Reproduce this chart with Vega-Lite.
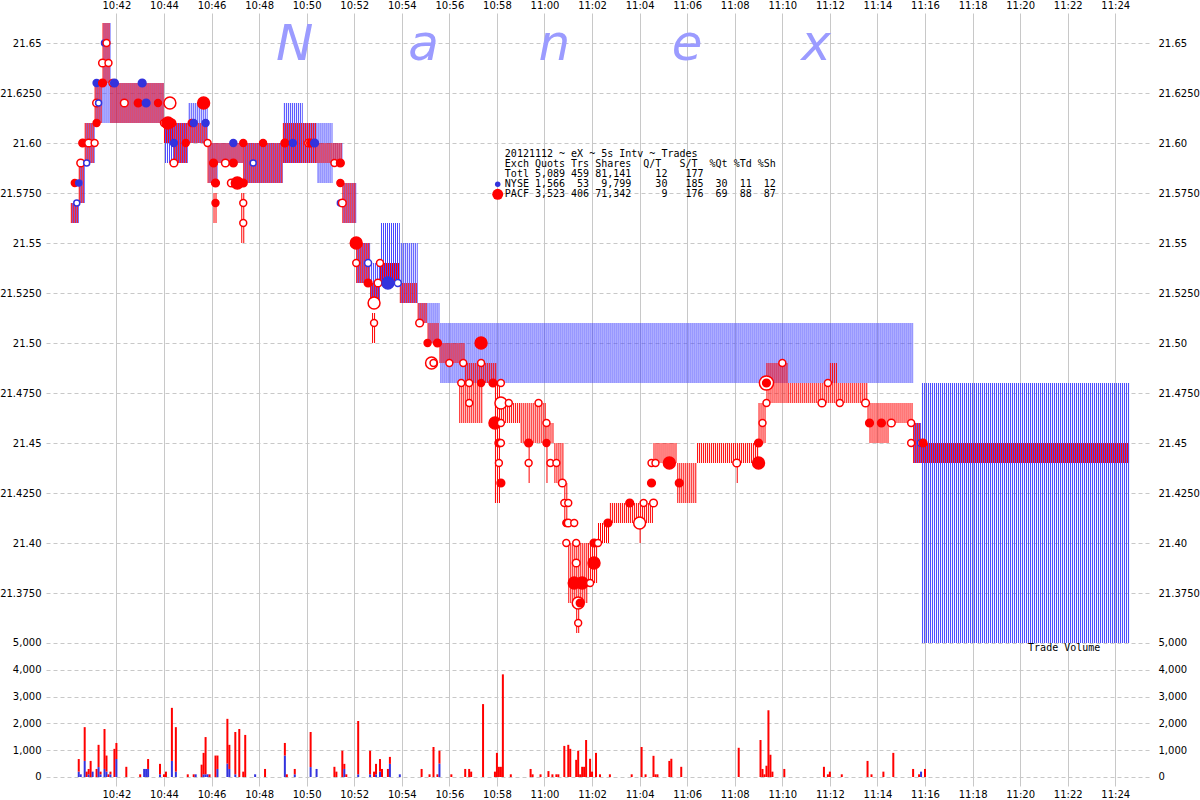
{
  "$schema": "https://vega.github.io/schema/vega-lite/v6.json",
  "width": 1104,
  "height": 773,
  "autosize": {"type": "none"},
  "padding": {"left": 46, "top": 13, "right": 50, "bottom": 14},
  "background": "white",
  "config": {
    "view": {"stroke": null},
    "axis": {"labelFont": "DejaVu Sans", "labelFontSize": 10, "labelColor": "#000000", "ticks": false, "domain": false, "gridColor": "#c8c8c8", "gridWidth": 1}
  },
  "layer": [
    {
      "layer": [
        {
          "data": {"format": {"parse": {"t0": "date:'%H:%M:%S'", "t1": "date:'%H:%M:%S'"}}, "values": [
            {"e":"N","t0":"10:40:05","t1":"10:40:25","lo":21.56,"hi":21.57},
            {"e":"N","t0":"10:40:25","t1":"10:40:40","lo":21.57,"hi":21.59},
            {"e":"N","t0":"10:40:40","t1":"10:41:05","lo":21.59,"hi":21.61},
            {"e":"N","t0":"10:41:05","t1":"10:41:25","lo":21.61,"hi":21.63},
            {"e":"N","t0":"10:41:25","t1":"10:41:45","lo":21.61,"hi":21.66},
            {"e":"N","t0":"10:41:45","t1":"10:44:00","lo":21.61,"hi":21.63},
            {"e":"N","t0":"10:44:00","t1":"10:44:25","lo":21.59,"hi":21.61},
            {"e":"N","t0":"10:44:25","t1":"10:45:00","lo":21.59,"hi":21.61},
            {"e":"N","t0":"10:45:00","t1":"10:45:50","lo":21.60,"hi":21.62},
            {"e":"N","t0":"10:45:50","t1":"10:46:15","lo":21.58,"hi":21.60},
            {"e":"N","t0":"10:46:15","t1":"10:47:20","lo":21.59,"hi":21.60},
            {"e":"N","t0":"10:47:20","t1":"10:49:00","lo":21.58,"hi":21.60},
            {"e":"N","t0":"10:49:00","t1":"10:49:50","lo":21.59,"hi":21.62},
            {"e":"N","t0":"10:49:50","t1":"10:50:25","lo":21.59,"hi":21.61},
            {"e":"N","t0":"10:50:25","t1":"10:51:05","lo":21.58,"hi":21.61},
            {"e":"N","t0":"10:51:05","t1":"10:51:30","lo":21.59,"hi":21.60},
            {"e":"N","t0":"10:51:30","t1":"10:52:05","lo":21.56,"hi":21.58},
            {"e":"N","t0":"10:52:05","t1":"10:52:40","lo":21.53,"hi":21.55},
            {"e":"N","t0":"10:52:40","t1":"10:53:05","lo":21.52,"hi":21.54},
            {"e":"N","t0":"10:53:05","t1":"10:53:55","lo":21.53,"hi":21.56},
            {"e":"N","t0":"10:53:55","t1":"10:54:40","lo":21.52,"hi":21.55},
            {"e":"N","t0":"10:54:40","t1":"10:55:05","lo":21.51,"hi":21.52},
            {"e":"N","t0":"10:55:05","t1":"10:55:35","lo":21.50,"hi":21.52},
            {"e":"N","t0":"10:55:35","t1":"11:15:30","lo":21.48,"hi":21.51},
            {"e":"N","t0":"11:15:30","t1":"11:15:50","lo":21.44,"hi":21.46},
            {"e":"N","t0":"11:15:50","t1":"11:24:35","lo":21.35,"hi":21.48}
          ]},
          "transform": [{"fold": ["lo", "hi"], "as": ["k", "p"]}],
          "mark": {"type": "rule", "color": "#4646ff", "strokeDash": [1, 1], "strokeDashOffset": 1, "strokeCap": "butt"},
          "encoding": {
            "x": {"field": "t0", "type": "temporal", "title": null,
                  "scale": {"domain": [{"year":1900,"month":1,"date":1,"hours":10,"minutes":39,"seconds":15}, {"year":1900,"month":1,"date":1,"hours":11,"minutes":25,"seconds":15}], "nice": false},
                  "axis": {"orient": "top", "format": "%H:%M", "grid": true, "labelPadding": 3,
                           "values": [
                             {"year":1900,"month":1,"date":1,"hours":10,"minutes":42},{"year":1900,"month":1,"date":1,"hours":10,"minutes":44},
                             {"year":1900,"month":1,"date":1,"hours":10,"minutes":46},{"year":1900,"month":1,"date":1,"hours":10,"minutes":48},
                             {"year":1900,"month":1,"date":1,"hours":10,"minutes":50},{"year":1900,"month":1,"date":1,"hours":10,"minutes":52},
                             {"year":1900,"month":1,"date":1,"hours":10,"minutes":54},{"year":1900,"month":1,"date":1,"hours":10,"minutes":56},
                             {"year":1900,"month":1,"date":1,"hours":10,"minutes":58},{"year":1900,"month":1,"date":1,"hours":11,"minutes":0},
                             {"year":1900,"month":1,"date":1,"hours":11,"minutes":2},{"year":1900,"month":1,"date":1,"hours":11,"minutes":4},
                             {"year":1900,"month":1,"date":1,"hours":11,"minutes":6},{"year":1900,"month":1,"date":1,"hours":11,"minutes":8},
                             {"year":1900,"month":1,"date":1,"hours":11,"minutes":10},{"year":1900,"month":1,"date":1,"hours":11,"minutes":12},
                             {"year":1900,"month":1,"date":1,"hours":11,"minutes":14},{"year":1900,"month":1,"date":1,"hours":11,"minutes":16},
                             {"year":1900,"month":1,"date":1,"hours":11,"minutes":18},{"year":1900,"month":1,"date":1,"hours":11,"minutes":20},
                             {"year":1900,"month":1,"date":1,"hours":11,"minutes":22},{"year":1900,"month":1,"date":1,"hours":11,"minutes":24}
                           ]}},
            "x2": {"field": "t1"},
            "y": {"field": "p", "aggregate": "mean", "type": "quantitative", "title": null,
                  "scale": {"domain": [21.2785, 21.665], "nice": false, "zero": false},
                  "axis": {"orient": "left", "grid": true, "gridDash": [4, 3], "labelPadding": 5,
                           "values": [21.375, 21.4, 21.425, 21.45, 21.475, 21.5, 21.525, 21.55, 21.575, 21.6, 21.625, 21.65],
                           "labelExpr": "round(datum.value*1000)%50==0 ? format(datum.value,'.2f') : format(datum.value,'.4f')"}},
            "strokeWidth": {"field": "p", "aggregate": "stdevp", "type": "quantitative", "scale": {"domain": [0, 0.1575], "range": [0, 630]}, "legend": null},
            "detail": {"field": "lo", "type": "quantitative"}
          }
        },
        {
          "data": {"format": {"parse": {"t0": "date:'%H:%M:%S'", "t1": "date:'%H:%M:%S'"}}, "values": [
            {"e":"P","t0":"10:40:05","t1":"10:40:25","lo":21.56,"hi":21.57},
            {"e":"P","t0":"10:40:25","t1":"10:40:40","lo":21.57,"hi":21.59},
            {"e":"P","t0":"10:40:40","t1":"10:41:05","lo":21.59,"hi":21.61},
            {"e":"P","t0":"10:41:05","t1":"10:41:25","lo":21.61,"hi":21.63},
            {"e":"P","t0":"10:41:25","t1":"10:41:45","lo":21.63,"hi":21.66},
            {"e":"P","t0":"10:41:45","t1":"10:44:00","lo":21.61,"hi":21.63},
            {"e":"P","t0":"10:44:00","t1":"10:44:25","lo":21.60,"hi":21.61},
            {"e":"P","t0":"10:44:25","t1":"10:45:00","lo":21.59,"hi":21.61},
            {"e":"P","t0":"10:45:00","t1":"10:45:50","lo":21.60,"hi":21.61},
            {"e":"P","t0":"10:45:50","t1":"10:46:15","lo":21.58,"hi":21.60},
            {"e":"P","t0":"10:46:05","t1":"10:46:15","lo":21.56,"hi":21.575},
            {"e":"P","t0":"10:46:15","t1":"10:47:20","lo":21.59,"hi":21.60},
            {"e":"P","t0":"10:47:15","t1":"10:47:25","lo":21.55,"hi":21.575},
            {"e":"P","t0":"10:47:20","t1":"10:49:00","lo":21.58,"hi":21.60},
            {"e":"P","t0":"10:49:00","t1":"10:50:25","lo":21.59,"hi":21.61},
            {"e":"P","t0":"10:50:25","t1":"10:51:30","lo":21.59,"hi":21.60},
            {"e":"P","t0":"10:51:30","t1":"10:52:05","lo":21.56,"hi":21.58},
            {"e":"P","t0":"10:52:05","t1":"10:52:40","lo":21.53,"hi":21.55},
            {"e":"P","t0":"10:52:40","t1":"10:53:05","lo":21.52,"hi":21.53},
            {"e":"P","t0":"10:52:45","t1":"10:52:55","lo":21.50,"hi":21.515},
            {"e":"P","t0":"10:53:05","t1":"10:53:55","lo":21.53,"hi":21.54},
            {"e":"P","t0":"10:53:55","t1":"10:54:40","lo":21.52,"hi":21.53},
            {"e":"P","t0":"10:54:40","t1":"10:55:05","lo":21.51,"hi":21.52},
            {"e":"P","t0":"10:55:05","t1":"10:55:35","lo":21.50,"hi":21.51},
            {"e":"P","t0":"10:55:35","t1":"10:56:40","lo":21.49,"hi":21.50},
            {"e":"P","t0":"10:56:40","t1":"10:58:00","lo":21.48,"hi":21.49},
            {"e":"P","t0":"10:56:25","t1":"10:57:25","lo":21.46,"hi":21.48},
            {"e":"P","t0":"10:57:55","t1":"10:58:10","lo":21.42,"hi":21.48},
            {"e":"P","t0":"10:58:10","t1":"10:59:00","lo":21.46,"hi":21.47},
            {"e":"P","t0":"10:59:00","t1":"11:00:05","lo":21.45,"hi":21.47},
            {"e":"P","t0":"10:59:20","t1":"10:59:25","lo":21.43,"hi":21.45},
            {"e":"P","t0":"11:00:05","t1":"11:00:25","lo":21.45,"hi":21.46},
            {"e":"P","t0":"11:00:05","t1":"11:00:10","lo":21.43,"hi":21.45},
            {"e":"P","t0":"11:00:25","t1":"11:00:50","lo":21.43,"hi":21.45},
            {"e":"P","t0":"11:00:50","t1":"11:01:00","lo":21.41,"hi":21.43},
            {"e":"P","t0":"11:01:00","t1":"11:01:50","lo":21.37,"hi":21.40},
            {"e":"P","t0":"11:01:20","t1":"11:01:30","lo":21.355,"hi":21.37},
            {"e":"P","t0":"11:01:50","t1":"11:02:15","lo":21.38,"hi":21.40},
            {"e":"P","t0":"11:02:15","t1":"11:02:45","lo":21.40,"hi":21.41},
            {"e":"P","t0":"11:02:45","t1":"11:04:35","lo":21.41,"hi":21.42},
            {"e":"P","t0":"11:04:00","t1":"11:04:05","lo":21.40,"hi":21.41},
            {"e":"P","t0":"11:04:35","t1":"11:05:35","lo":21.44,"hi":21.45},
            {"e":"P","t0":"11:05:35","t1":"11:06:25","lo":21.42,"hi":21.44},
            {"e":"P","t0":"11:06:25","t1":"11:09:00","lo":21.44,"hi":21.45},
            {"e":"P","t0":"11:08:05","t1":"11:08:10","lo":21.43,"hi":21.44},
            {"e":"P","t0":"11:09:00","t1":"11:09:20","lo":21.45,"hi":21.47},
            {"e":"P","t0":"11:09:20","t1":"11:10:15","lo":21.47,"hi":21.49},
            {"e":"P","t0":"11:10:15","t1":"11:13:35","lo":21.47,"hi":21.48},
            {"e":"P","t0":"11:12:00","t1":"11:12:20","lo":21.48,"hi":21.49},
            {"e":"P","t0":"11:13:35","t1":"11:15:30","lo":21.46,"hi":21.47},
            {"e":"P","t0":"11:13:40","t1":"11:14:30","lo":21.45,"hi":21.46},
            {"e":"P","t0":"11:15:30","t1":"11:15:50","lo":21.44,"hi":21.46},
            {"e":"P","t0":"11:15:50","t1":"11:24:35","lo":21.44,"hi":21.45}
          ]},
          "transform": [{"fold": ["lo", "hi"], "as": ["k", "p"]}],
          "mark": {"type": "rule", "color": "#ff0000", "strokeDash": [1, 1], "strokeDashOffset": 0, "strokeCap": "butt"},
          "encoding": {
            "x": {"field": "t0", "type": "temporal"},
            "x2": {"field": "t1"},
            "y": {"field": "p", "aggregate": "mean", "type": "quantitative"},
            "strokeWidth": {"field": "p", "aggregate": "stdevp", "type": "quantitative", "scale": {"domain": [0, 0.1575], "range": [0, 630]}, "legend": null},
            "detail": {"field": "lo", "type": "quantitative"}
          }
        },
        {
          "data": {"format": {"parse": {"t": "date:'%H:%M:%S'"}}, "values": [
            {"t":"10:40:15","p":21.58,"e":"P","s":"b","sh":200},
            {"t":"10:40:20","p":21.57,"e":"N","s":"a","sh":100},
            {"t":"10:40:25","p":21.58,"e":"N","s":"b","sh":100},
            {"t":"10:40:30","p":21.59,"e":"P","s":"a","sh":300},
            {"t":"10:40:35","p":21.60,"e":"P","s":"b","sh":300},
            {"t":"10:40:45","p":21.59,"e":"N","s":"a","sh":100},
            {"t":"10:40:50","p":21.60,"e":"P","s":"a","sh":300},
            {"t":"10:41:05","p":21.60,"e":"P","s":"a","sh":200},
            {"t":"10:41:10","p":21.61,"e":"P","s":"b","sh":200},
            {"t":"10:41:10","p":21.62,"e":"P","s":"a","sh":300},
            {"t":"10:41:15","p":21.62,"e":"N","s":"a","sh":100},
            {"t":"10:41:10","p":21.63,"e":"N","s":"b","sh":200},
            {"t":"10:41:25","p":21.63,"e":"P","s":"b","sh":300},
            {"t":"10:41:25","p":21.64,"e":"P","s":"a","sh":300},
            {"t":"10:41:40","p":21.64,"e":"P","s":"a","sh":200},
            {"t":"10:41:30","p":21.65,"e":"N","s":"b","sh":100},
            {"t":"10:41:35","p":21.65,"e":"P","s":"a","sh":200},
            {"t":"10:41:50","p":21.63,"e":"P","s":"a","sh":200},
            {"t":"10:41:55","p":21.63,"e":"N","s":"b","sh":300},
            {"t":"10:42:20","p":21.62,"e":"P","s":"a","sh":300},
            {"t":"10:42:55","p":21.62,"e":"P","s":"b","sh":300},
            {"t":"10:43:05","p":21.63,"e":"N","s":"b","sh":300},
            {"t":"10:43:15","p":21.62,"e":"N","s":"b","sh":300},
            {"t":"10:43:45","p":21.62,"e":"P","s":"b","sh":200},
            {"t":"10:44:00","p":21.61,"e":"P","s":"a","sh":200},
            {"t":"10:44:15","p":21.62,"e":"P","s":"a","sh":1000},
            {"t":"10:44:10","p":21.61,"e":"P","s":"b","sh":1000},
            {"t":"10:44:20","p":21.61,"e":"P","s":"b","sh":300},
            {"t":"10:44:25","p":21.60,"e":"N","s":"b","sh":200},
            {"t":"10:44:25","p":21.59,"e":"P","s":"a","sh":300},
            {"t":"10:44:55","p":21.60,"e":"P","s":"b","sh":200},
            {"t":"10:45:10","p":21.61,"e":"P","s":"b","sh":200},
            {"t":"10:45:15","p":21.61,"e":"N","s":"b","sh":200},
            {"t":"10:45:40","p":21.62,"e":"P","s":"b","sh":1000},
            {"t":"10:45:45","p":21.61,"e":"N","s":"b","sh":200},
            {"t":"10:45:50","p":21.60,"e":"P","s":"a","sh":200},
            {"t":"10:46:05","p":21.59,"e":"P","s":"b","sh":300},
            {"t":"10:46:10","p":21.58,"e":"P","s":"b","sh":300},
            {"t":"10:46:10","p":21.57,"e":"P","s":"b","sh":200},
            {"t":"10:46:35","p":21.59,"e":"P","s":"a","sh":300},
            {"t":"10:46:50","p":21.58,"e":"P","s":"a","sh":300},
            {"t":"10:46:55","p":21.59,"e":"P","s":"b","sh":300},
            {"t":"10:46:55","p":21.60,"e":"N","s":"b","sh":200},
            {"t":"10:47:05","p":21.58,"e":"P","s":"b","sh":1000},
            {"t":"10:47:20","p":21.58,"e":"P","s":"b","sh":300},
            {"t":"10:47:20","p":21.60,"e":"P","s":"b","sh":200},
            {"t":"10:47:20","p":21.57,"e":"P","s":"a","sh":200},
            {"t":"10:47:20","p":21.56,"e":"P","s":"a","sh":200},
            {"t":"10:47:45","p":21.59,"e":"N","s":"a","sh":100},
            {"t":"10:48:10","p":21.60,"e":"P","s":"b","sh":200},
            {"t":"10:49:05","p":21.60,"e":"P","s":"b","sh":300},
            {"t":"10:49:25","p":21.60,"e":"N","s":"b","sh":200},
            {"t":"10:50:05","p":21.60,"e":"P","s":"a","sh":300},
            {"t":"10:50:10","p":21.60,"e":"P","s":"b","sh":300},
            {"t":"10:50:20","p":21.60,"e":"N","s":"b","sh":300},
            {"t":"10:51:10","p":21.59,"e":"P","s":"a","sh":200},
            {"t":"10:51:25","p":21.59,"e":"P","s":"b","sh":300},
            {"t":"10:51:25","p":21.58,"e":"P","s":"b","sh":200},
            {"t":"10:51:25","p":21.57,"e":"N","s":"a","sh":100},
            {"t":"10:51:30","p":21.57,"e":"P","s":"a","sh":300},
            {"t":"10:52:05","p":21.55,"e":"P","s":"b","sh":1000},
            {"t":"10:52:05","p":21.54,"e":"P","s":"a","sh":200},
            {"t":"10:52:35","p":21.54,"e":"N","s":"a","sh":200},
            {"t":"10:52:35","p":21.53,"e":"P","s":"b","sh":300},
            {"t":"10:52:50","p":21.52,"e":"P","s":"a","sh":1000},
            {"t":"10:52:50","p":21.51,"e":"P","s":"a","sh":200},
            {"t":"10:53:00","p":21.53,"e":"P","s":"a","sh":300},
            {"t":"10:53:05","p":21.54,"e":"P","s":"a","sh":200},
            {"t":"10:53:25","p":21.53,"e":"N","s":"b","sh":1000},
            {"t":"10:53:50","p":21.53,"e":"N","s":"a","sh":200},
            {"t":"10:54:45","p":21.51,"e":"P","s":"a","sh":300},
            {"t":"10:55:05","p":21.50,"e":"P","s":"b","sh":200},
            {"t":"10:55:15","p":21.49,"e":"P","s":"a","sh":1000},
            {"t":"10:55:20","p":21.49,"e":"P","s":"a","sh":200},
            {"t":"10:55:30","p":21.50,"e":"P","s":"b","sh":300},
            {"t":"10:56:00","p":21.49,"e":"P","s":"a","sh":200},
            {"t":"10:56:30","p":21.48,"e":"P","s":"a","sh":200},
            {"t":"10:56:35","p":21.49,"e":"P","s":"a","sh":200},
            {"t":"10:56:50","p":21.48,"e":"P","s":"a","sh":200},
            {"t":"10:56:50","p":21.47,"e":"P","s":"a","sh":200},
            {"t":"10:57:20","p":21.50,"e":"P","s":"b","sh":1000},
            {"t":"10:57:20","p":21.49,"e":"P","s":"a","sh":200},
            {"t":"10:57:20","p":21.48,"e":"P","s":"b","sh":200},
            {"t":"10:57:50","p":21.48,"e":"P","s":"b","sh":300},
            {"t":"10:57:55","p":21.46,"e":"P","s":"b","sh":1000},
            {"t":"10:58:05","p":21.45,"e":"P","s":"b","sh":300},
            {"t":"10:58:05","p":21.44,"e":"P","s":"a","sh":200},
            {"t":"10:58:10","p":21.48,"e":"P","s":"a","sh":200},
            {"t":"10:58:10","p":21.47,"e":"P","s":"a","sh":1000},
            {"t":"10:58:10","p":21.46,"e":"P","s":"a","sh":200},
            {"t":"10:58:10","p":21.45,"e":"P","s":"a","sh":200},
            {"t":"10:58:10","p":21.43,"e":"P","s":"b","sh":300},
            {"t":"10:58:30","p":21.47,"e":"P","s":"a","sh":200},
            {"t":"10:59:20","p":21.45,"e":"P","s":"b","sh":300},
            {"t":"10:59:20","p":21.44,"e":"P","s":"a","sh":200},
            {"t":"10:59:45","p":21.47,"e":"P","s":"a","sh":200},
            {"t":"11:00:05","p":21.46,"e":"P","s":"a","sh":200},
            {"t":"11:00:05","p":21.45,"e":"P","s":"b","sh":200},
            {"t":"11:00:15","p":21.44,"e":"P","s":"a","sh":200},
            {"t":"11:00:30","p":21.44,"e":"P","s":"a","sh":200},
            {"t":"11:00:45","p":21.43,"e":"P","s":"a","sh":300},
            {"t":"11:00:50","p":21.42,"e":"P","s":"a","sh":200},
            {"t":"11:00:55","p":21.41,"e":"P","s":"b","sh":200},
            {"t":"11:00:55","p":21.40,"e":"P","s":"a","sh":200},
            {"t":"11:01:00","p":21.42,"e":"P","s":"a","sh":200},
            {"t":"11:01:00","p":21.41,"e":"P","s":"a","sh":300},
            {"t":"11:01:15","p":21.41,"e":"P","s":"a","sh":200},
            {"t":"11:01:15","p":21.38,"e":"P","s":"b","sh":1000},
            {"t":"11:01:20","p":21.40,"e":"P","s":"a","sh":200},
            {"t":"11:01:20","p":21.39,"e":"P","s":"a","sh":300},
            {"t":"11:01:25","p":21.37,"e":"P","s":"a","sh":1000},
            {"t":"11:01:25","p":21.36,"e":"P","s":"a","sh":200},
            {"t":"11:01:30","p":21.37,"e":"P","s":"b","sh":300},
            {"t":"11:01:35","p":21.38,"e":"P","s":"b","sh":1000},
            {"t":"11:01:55","p":21.38,"e":"P","s":"a","sh":200},
            {"t":"11:02:05","p":21.40,"e":"P","s":"b","sh":300},
            {"t":"11:02:05","p":21.39,"e":"P","s":"b","sh":1000},
            {"t":"11:02:15","p":21.40,"e":"P","s":"a","sh":200},
            {"t":"11:02:40","p":21.41,"e":"P","s":"b","sh":300},
            {"t":"11:03:35","p":21.42,"e":"P","s":"b","sh":300},
            {"t":"11:04:00","p":21.41,"e":"P","s":"a","sh":1000},
            {"t":"11:04:10","p":21.42,"e":"P","s":"a","sh":200},
            {"t":"11:04:30","p":21.44,"e":"P","s":"a","sh":200},
            {"t":"11:04:30","p":21.43,"e":"P","s":"b","sh":300},
            {"t":"11:04:35","p":21.42,"e":"P","s":"a","sh":300},
            {"t":"11:04:40","p":21.44,"e":"P","s":"a","sh":200},
            {"t":"11:05:15","p":21.44,"e":"P","s":"b","sh":1000},
            {"t":"11:05:40","p":21.43,"e":"P","s":"b","sh":300},
            {"t":"11:08:05","p":21.44,"e":"P","s":"a","sh":300},
            {"t":"11:09:00","p":21.44,"e":"P","s":"b","sh":1000},
            {"t":"11:09:00","p":21.45,"e":"P","s":"b","sh":300},
            {"t":"11:09:10","p":21.46,"e":"P","s":"a","sh":200},
            {"t":"11:09:20","p":21.47,"e":"P","s":"a","sh":200},
            {"t":"11:09:20","p":21.48,"e":"P","s":"a","sh":1500},
            {"t":"11:09:20","p":21.48,"e":"P","s":"b","sh":300},
            {"t":"11:10:00","p":21.49,"e":"P","s":"a","sh":200},
            {"t":"11:11:40","p":21.47,"e":"P","s":"a","sh":300},
            {"t":"11:11:55","p":21.48,"e":"P","s":"a","sh":200},
            {"t":"11:12:25","p":21.47,"e":"P","s":"a","sh":200},
            {"t":"11:13:30","p":21.47,"e":"P","s":"a","sh":300},
            {"t":"11:13:40","p":21.46,"e":"P","s":"b","sh":300},
            {"t":"11:14:10","p":21.46,"e":"P","s":"b","sh":300},
            {"t":"11:14:35","p":21.46,"e":"P","s":"a","sh":300},
            {"t":"11:15:25","p":21.46,"e":"P","s":"a","sh":200},
            {"t":"11:15:25","p":21.45,"e":"P","s":"a","sh":200},
            {"t":"11:15:50","p":21.45,"e":"N","s":"a","sh":200},
            {"t":"11:15:55","p":21.45,"e":"P","s":"b","sh":300}
          ]},
          "mark": {"type": "point", "shape": "circle", "filled": false, "strokeWidth": 1.5, "opacity": 1, "fillOpacity": 1},
          "encoding": {
            "x": {"field": "t", "type": "temporal"},
            "y": {"field": "p", "type": "quantitative"},
            "fill": {"condition": {"test": "datum.s == 'a'", "value": "#ffffff"}, "field": "e", "type": "nominal", "scale": {"domain": ["N", "P"], "range": ["#3333dd", "#ff0000"]}, "legend": null},
            "stroke": {"field": "e", "type": "nominal", "scale": {"domain": ["N", "P"], "range": ["#3333dd", "#ff0000"]}, "legend": null},
            "size": {"field": "sh", "type": "quantitative", "scale": {"domain": [100, 1500], "range": [36, 200]}, "legend": null}
          }
        },
        {
          "data": {"format": {"parse": {"t": "date:'%H:%M:%S'"}}, "values": [
            {"c":"N","t":"10:49:30"},
            {"c":"a","t":"10:54:55"},
            {"c":"n","t":"11:00:25"},
            {"c":"e","t":"11:06:00"},
            {"c":"x","t":"11:11:25"}
          ]},
          "mark": {"type": "text", "font": "DejaVu Sans", "fontSize": 50, "fontStyle": "italic", "color": "#9b9bff", "align": "center", "baseline": "alphabetic"},
          "encoding": {
            "x": {"field": "t", "type": "temporal"},
            "y": {"datum": 21.6415, "type": "quantitative"},
            "text": {"field": "c"}
          }
        },
        {
          "data": {"values": [{}]},
          "mark": {"type": "text", "font": "DejaVu Sans Mono", "fontSize": 10, "color": "#000000", "align": "left", "baseline": "middle", "lineHeight": 10,
                   "text": [
                     "20121112\u00a0~\u00a0eX\u00a0~\u00a05s\u00a0Intv\u00a0~\u00a0Trades",
                     "Exch\u00a0Quots\u00a0Trs\u00a0Shares\u00a0\u00a0Q/T\u00a0\u00a0\u00a0S/T\u00a0\u00a0%Qt\u00a0%Td\u00a0%Sh",
                     "Totl\u00a05,089\u00a0459\u00a081,141\u00a0\u00a0\u00a0\u00a012\u00a0\u00a0\u00a0177",
                     "NYSE\u00a01,566\u00a0\u00a053\u00a0\u00a09,799\u00a0\u00a0\u00a0\u00a030\u00a0\u00a0\u00a0185\u00a0\u00a030\u00a0\u00a011\u00a0\u00a012",
                     "PACF\u00a03,523\u00a0406\u00a071,342\u00a0\u00a0\u00a0\u00a0\u00a09\u00a0\u00a0\u00a0176\u00a0\u00a069\u00a0\u00a088\u00a0\u00a087"
                   ]},
          "encoding": {
            "x": {"datum": {"year":1900,"month":1,"date":1,"hours":10,"minutes":58,"seconds":20}, "type": "temporal"},
            "y": {"datum": 21.59435, "type": "quantitative"}
          }
        },
        {
          "data": {"values": [{}]},
          "mark": {"type": "circle", "color": "#3333dd", "size": 30, "opacity": 1},
          "encoding": {
            "x": {"datum": {"year":1900,"month":1,"date":1,"hours":10,"minutes":58,"seconds":2}, "type": "temporal"},
            "y": {"datum": 21.57935, "type": "quantitative"}
          }
        },
        {
          "data": {"values": [{}]},
          "mark": {"type": "circle", "color": "#ff0000", "size": 120, "opacity": 1},
          "encoding": {
            "x": {"datum": {"year":1900,"month":1,"date":1,"hours":10,"minutes":58,"seconds":2}, "type": "temporal"},
            "y": {"datum": 21.57435, "type": "quantitative"}
          }
        }
      ]
    },
    {
      "data": {"values": [{}]},
      "mark": {"type": "rule", "opacity": 0},
      "encoding": {
        "y": {"datum": 21.5, "type": "quantitative", "title": null,
              "scale": {"domain": [21.2785, 21.665], "nice": false, "zero": false},
              "axis": {"orient": "right", "grid": false, "labelPadding": 8,
                       "values": [21.375, 21.4, 21.425, 21.45, 21.475, 21.5, 21.525, 21.55, 21.575, 21.6, 21.625, 21.65],
                       "labelExpr": "round(datum.value*1000)%50==0 ? format(datum.value,'.2f') : format(datum.value,'.4f')"}}
      }
    },
    {
      "layer": [
        {
          "data": {"format": {"parse": {"t": "date:'%H:%M:%S'"}}, "values": [
            {"t":"10:40:25","e":"N","v":200},{"t":"10:40:25","e":"P","v":470},
            {"t":"10:40:30","e":"N","v":100},
            {"t":"10:40:40","e":"N","v":600},{"t":"10:40:40","e":"P","v":1260},
            {"t":"10:40:45","e":"P","v":200},
            {"t":"10:40:50","e":"N","v":100},{"t":"10:40:50","e":"P","v":200},
            {"t":"10:40:55","e":"P","v":600},
            {"t":"10:41:00","e":"N","v":200},
            {"t":"10:41:10","e":"P","v":300},
            {"t":"10:41:15","e":"N","v":370},{"t":"10:41:15","e":"P","v":830},
            {"t":"10:41:20","e":"N","v":100},{"t":"10:41:20","e":"P","v":100},
            {"t":"10:41:30","e":"N","v":300},{"t":"10:41:30","e":"P","v":1490},
            {"t":"10:41:35","e":"N","v":200},{"t":"10:41:35","e":"P","v":600},
            {"t":"10:41:40","e":"P","v":100},
            {"t":"10:41:45","e":"N","v":100},{"t":"10:41:45","e":"P","v":100},
            {"t":"10:41:55","e":"P","v":1050},
            {"t":"10:42:00","e":"N","v":670},{"t":"10:42:00","e":"P","v":600},
            {"t":"10:42:25","e":"P","v":380},
            {"t":"10:43:00","e":"P","v":100},
            {"t":"10:43:10","e":"N","v":300},
            {"t":"10:43:15","e":"N","v":300},
            {"t":"10:43:20","e":"N","v":300},{"t":"10:43:20","e":"P","v":370},
            {"t":"10:43:50","e":"N","v":100},{"t":"10:43:50","e":"P","v":390},
            {"t":"10:44:00","e":"P","v":100},
            {"t":"10:44:05","e":"P","v":200},
            {"t":"10:44:20","e":"N","v":600},{"t":"10:44:20","e":"P","v":1980},
            {"t":"10:44:30","e":"N","v":200},{"t":"10:44:30","e":"P","v":1660},
            {"t":"10:45:00","e":"P","v":100},
            {"t":"10:45:15","e":"P","v":100},
            {"t":"10:45:20","e":"N","v":100},
            {"t":"10:45:35","e":"P","v":460},
            {"t":"10:45:40","e":"N","v":100},{"t":"10:45:40","e":"P","v":800},
            {"t":"10:45:45","e":"N","v":100},{"t":"10:45:45","e":"P","v":1390},
            {"t":"10:45:50","e":"N","v":100},
            {"t":"10:45:55","e":"P","v":100},
            {"t":"10:46:10","e":"P","v":800},
            {"t":"10:46:15","e":"N","v":300},{"t":"10:46:15","e":"P","v":500},
            {"t":"10:46:40","e":"N","v":500},{"t":"10:46:40","e":"P","v":1670},
            {"t":"10:46:45","e":"N","v":300},{"t":"10:46:45","e":"P","v":900},
            {"t":"10:47:00","e":"N","v":100},{"t":"10:47:00","e":"P","v":1580},
            {"t":"10:47:10","e":"P","v":1790},
            {"t":"10:47:20","e":"P","v":200},
            {"t":"10:47:25","e":"P","v":1570},
            {"t":"10:47:50","e":"N","v":100},
            {"t":"10:48:15","e":"P","v":300},
            {"t":"10:49:05","e":"N","v":800},{"t":"10:49:05","e":"P","v":470},
            {"t":"10:49:10","e":"P","v":100},
            {"t":"10:49:30","e":"N","v":100},{"t":"10:49:30","e":"P","v":200},
            {"t":"10:50:10","e":"N","v":370},{"t":"10:50:10","e":"P","v":1310},
            {"t":"10:50:25","e":"N","v":300},
            {"t":"10:51:10","e":"P","v":380},
            {"t":"10:51:15","e":"P","v":200},
            {"t":"10:51:30","e":"P","v":980},
            {"t":"10:51:35","e":"N","v":300},{"t":"10:51:35","e":"P","v":190},
            {"t":"10:51:40","e":"P","v":100},
            {"t":"10:52:10","e":"N","v":100},{"t":"10:52:10","e":"P","v":1990},
            {"t":"10:52:40","e":"N","v":100},{"t":"10:52:40","e":"P","v":880},
            {"t":"10:52:50","e":"P","v":200},
            {"t":"10:52:55","e":"N","v":100},{"t":"10:52:55","e":"P","v":390},
            {"t":"10:53:05","e":"N","v":200},{"t":"10:53:05","e":"P","v":470},
            {"t":"10:53:10","e":"P","v":300},
            {"t":"10:53:25","e":"P","v":300},
            {"t":"10:53:30","e":"N","v":490},{"t":"10:53:30","e":"P","v":260},
            {"t":"10:53:55","e":"N","v":100},
            {"t":"10:54:50","e":"P","v":300},
            {"t":"10:55:10","e":"P","v":100},
            {"t":"10:55:20","e":"P","v":1120},
            {"t":"10:55:30","e":"P","v":100},
            {"t":"10:55:35","e":"N","v":500},{"t":"10:55:35","e":"P","v":480},
            {"t":"10:56:05","e":"P","v":100},
            {"t":"10:56:40","e":"P","v":300},
            {"t":"10:56:50","e":"P","v":300},
            {"t":"10:56:55","e":"P","v":200},
            {"t":"10:57:25","e":"P","v":2720},
            {"t":"10:57:55","e":"P","v":200},
            {"t":"10:58:00","e":"P","v":900},
            {"t":"10:58:05","e":"P","v":380},
            {"t":"10:58:10","e":"P","v":380},
            {"t":"10:58:15","e":"P","v":3830},
            {"t":"10:58:35","e":"P","v":100},
            {"t":"10:59:25","e":"P","v":300},
            {"t":"10:59:30","e":"P","v":100},
            {"t":"10:59:50","e":"P","v":100},
            {"t":"11:00:10","e":"P","v":220},
            {"t":"11:00:20","e":"P","v":100},
            {"t":"11:00:30","e":"P","v":100},
            {"t":"11:00:35","e":"P","v":100},
            {"t":"11:00:50","e":"P","v":1160},
            {"t":"11:01:00","e":"P","v":1200},
            {"t":"11:01:05","e":"P","v":1050},
            {"t":"11:01:20","e":"P","v":640},
            {"t":"11:01:25","e":"P","v":980},
            {"t":"11:01:30","e":"P","v":100},
            {"t":"11:01:35","e":"P","v":380},
            {"t":"11:01:40","e":"P","v":380},
            {"t":"11:01:45","e":"P","v":1380},
            {"t":"11:01:55","e":"P","v":680},
            {"t":"11:02:00","e":"P","v":200},
            {"t":"11:02:10","e":"P","v":900},
            {"t":"11:02:20","e":"P","v":100},
            {"t":"11:02:45","e":"P","v":100},
            {"t":"11:03:40","e":"P","v":100},
            {"t":"11:04:05","e":"P","v":1120},
            {"t":"11:04:15","e":"P","v":100},
            {"t":"11:04:35","e":"P","v":790},
            {"t":"11:04:40","e":"P","v":100},
            {"t":"11:04:45","e":"P","v":100},
            {"t":"11:05:15","e":"P","v":600},
            {"t":"11:05:20","e":"P","v":680},
            {"t":"11:05:45","e":"P","v":380},
            {"t":"11:08:10","e":"P","v":1090},
            {"t":"11:09:05","e":"P","v":1380},
            {"t":"11:09:10","e":"P","v":300},
            {"t":"11:09:15","e":"P","v":100},
            {"t":"11:09:20","e":"P","v":420},
            {"t":"11:09:25","e":"P","v":2490},
            {"t":"11:09:30","e":"P","v":830},
            {"t":"11:09:35","e":"P","v":200},
            {"t":"11:10:05","e":"P","v":300},
            {"t":"11:11:45","e":"P","v":380},
            {"t":"11:11:55","e":"P","v":100},
            {"t":"11:12:00","e":"P","v":200},
            {"t":"11:12:30","e":"P","v":100},
            {"t":"11:13:35","e":"P","v":600},
            {"t":"11:13:45","e":"P","v":100},
            {"t":"11:14:15","e":"P","v":200},
            {"t":"11:14:40","e":"P","v":900},
            {"t":"11:15:30","e":"P","v":300},
            {"t":"11:15:45","e":"P","v":100},
            {"t":"11:15:50","e":"N","v":200},
            {"t":"11:16:00","e":"P","v":300}
          ]},
          "mark": {"type": "bar", "width": 2},
          "encoding": {
            "x": {"field": "t", "type": "temporal", "title": null,
                  "scale": {"domain": [{"year":1900,"month":1,"date":1,"hours":10,"minutes":39,"seconds":15}, {"year":1900,"month":1,"date":1,"hours":11,"minutes":25,"seconds":15}], "nice": false},
                  "axis": {"orient": "bottom", "format": "%H:%M", "grid": false, "labelPadding": 3,
                           "values": [
                             {"year":1900,"month":1,"date":1,"hours":10,"minutes":42},{"year":1900,"month":1,"date":1,"hours":10,"minutes":44},
                             {"year":1900,"month":1,"date":1,"hours":10,"minutes":46},{"year":1900,"month":1,"date":1,"hours":10,"minutes":48},
                             {"year":1900,"month":1,"date":1,"hours":10,"minutes":50},{"year":1900,"month":1,"date":1,"hours":10,"minutes":52},
                             {"year":1900,"month":1,"date":1,"hours":10,"minutes":54},{"year":1900,"month":1,"date":1,"hours":10,"minutes":56},
                             {"year":1900,"month":1,"date":1,"hours":10,"minutes":58},{"year":1900,"month":1,"date":1,"hours":11,"minutes":0},
                             {"year":1900,"month":1,"date":1,"hours":11,"minutes":2},{"year":1900,"month":1,"date":1,"hours":11,"minutes":4},
                             {"year":1900,"month":1,"date":1,"hours":11,"minutes":6},{"year":1900,"month":1,"date":1,"hours":11,"minutes":8},
                             {"year":1900,"month":1,"date":1,"hours":11,"minutes":10},{"year":1900,"month":1,"date":1,"hours":11,"minutes":12},
                             {"year":1900,"month":1,"date":1,"hours":11,"minutes":14},{"year":1900,"month":1,"date":1,"hours":11,"minutes":16},
                             {"year":1900,"month":1,"date":1,"hours":11,"minutes":18},{"year":1900,"month":1,"date":1,"hours":11,"minutes":20},
                             {"year":1900,"month":1,"date":1,"hours":11,"minutes":22},{"year":1900,"month":1,"date":1,"hours":11,"minutes":24}
                           ]}},
            "y": {"field": "v", "type": "quantitative", "stack": "zero", "title": null,
                  "scale": {"domain": [-336, 28507], "nice": false, "zero": false},
                  "axis": {"orient": "left", "grid": true, "gridDash": [4, 3], "labelPadding": 5, "values": [0, 1000, 2000, 3000, 4000, 5000], "format": ",d"}},
            "color": {"field": "e", "type": "nominal", "scale": {"domain": ["N", "P"], "range": ["#3333dd", "#ff0000"]}, "legend": null},
            "order": {"field": "e", "sort": "ascending"}
          }
        },
        {
          "data": {"values": [{}]},
          "mark": {"type": "text", "text": "Trade Volume", "font": "DejaVu Sans Mono", "fontSize": 10, "color": "#000000", "align": "left", "baseline": "middle"},
          "encoding": {
            "x": {"datum": {"year":1900,"month":1,"date":1,"hours":11,"minutes":20,"seconds":20}, "type": "temporal"},
            "y": {"datum": 4810, "type": "quantitative"}
          }
        }
      ]
    },
    {
      "data": {"values": [{}]},
      "mark": {"type": "rule", "opacity": 0},
      "encoding": {
        "y": {"datum": 2000, "type": "quantitative", "title": null,
              "scale": {"domain": [-336, 28507], "nice": false, "zero": false},
              "axis": {"orient": "right", "grid": false, "labelPadding": 8, "values": [0, 1000, 2000, 3000, 4000, 5000], "format": ",d"}}
      }
    }
  ],
  "resolve": {"scale": {"y": "independent"}, "axis": {"x": "independent", "y": "independent"}}
}
